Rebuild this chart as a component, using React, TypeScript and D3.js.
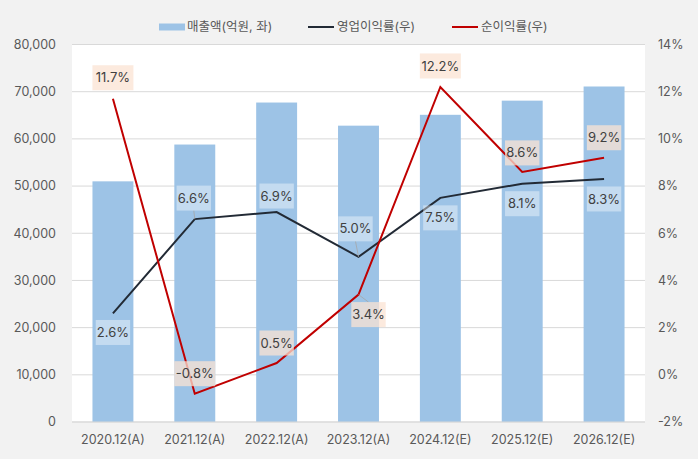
import React from "react";
import * as d3 from "d3";

const categories = ["2020.12(A)", "2021.12(A)", "2022.12(A)", "2023.12(A)", "2024.12(E)", "2025.12(E)", "2026.12(E)"];
const revenue = [51000, 58800, 67700, 62800, 65100, 68100, 71100];
const opMargin = [2.6, 6.6, 6.9, 5.0, 7.5, 8.1, 8.3];
const netMargin = [11.7, -0.8, 0.5, 3.4, 12.2, 8.6, 9.2];
const leftTicks = [0, 10000, 20000, 30000, 40000, 50000, 60000, 70000, 80000];
const rightTicks = [-2, 0, 2, 4, 6, 8, 10, 12, 14];
const legendLabels = ["매출액(억원, 좌)", "영업이익률(우)", "순이익률(우)"];

// label placement (style): [dx, dy] of box centre relative to point
const opLabelOffsets = [[0, 19], [-1, -21], [0, -16], [-3, -28], [0, 20], [0, 20], [0, 20]];
const netLabelOffsets = [[0, -21], [0, -20], [0, -20], [10, 20], [0, -21], [0, -19], [0, -20]];

const W = 698, H = 459;
const M = { left: 72, right: 53, top: 44.5, bottom: 37 };
const FONT = "Inter, 'Noto Sans CJK KR', sans-serif";

export default function App() {
  const x = d3.scaleBand<string>().domain(categories).range([M.left, W - M.right]).paddingInner(0.5).paddingOuter(0.25);
  const yL = d3.scaleLinear().domain([0, 80000]).range([H - M.bottom, M.top]);
  const yR = d3.scaleLinear().domain([-2, 14]).range([H - M.bottom, M.top]);
  const cx = (c: string) => (x(c) as number) + x.bandwidth() / 2;
  const fmt = d3.format(",");
  const line = d3.line<number>().x((_, i) => cx(categories[i])).y((d) => yR(d));

  const labelBox = (v: number, i: number, off: number[], kind: "op" | "net") => {
    const px = cx(categories[i]);
    const py = yR(v);
    const bx = px + off[0];
    const by = py + off[1];
    const txt = v.toFixed(1) + "%";
    const w = txt.length * 6.6 + 8;
    const h = 25;
    const showLeader = Math.abs(off[1]) > 24 || Math.abs(off[0]) > 5 || (kind === "op" && i === 1);
    return (
      <g key={kind + i}>
        {showLeader && (
          <line x1={px} y1={py} x2={bx} y2={by + (off[1] < 0 ? h / 2 : -h / 2)} stroke="#a6a6a6" strokeWidth={0.8} />
        )}
        <rect x={bx - w / 2} y={by - h / 2} width={w} height={h}
          fill={kind === "op" ? "#ffffff" : "#fbe3d3"} fillOpacity={kind === "op" ? 0.4 : 0.75} />
        <text x={bx} y={by} dy="0.35em" textAnchor="middle" fontSize={13} fill="#404040" fontFamily={FONT}>{txt}</text>
      </g>
    );
  };

  return (
    <svg width={W} height={H} style={{ position: "absolute", left: 0, top: 0, background: "#f2f2f2" }}>
      <rect x={0} y={0} width={W} height={H} fill="#f2f2f2" />
      <rect x={M.left} y={M.top} width={W - M.left - M.right} height={H - M.top - M.bottom} fill="#ffffff" />
      {leftTicks.map((t) => (
        <line key={"g" + t} x1={M.left} x2={W - M.right} y1={yL(t)} y2={yL(t)} stroke="#d9d9d9" strokeWidth={1} />
      ))}
      {leftTicks.map((t) => (
        <text key={"l" + t} x={56} y={yL(t)} dy="0.35em" textAnchor="end" fontSize={12.5} fill="#595959" fontFamily={FONT}>{fmt(t)}</text>
      ))}
      {rightTicks.map((t) => (
        <text key={"r" + t} x={658} y={yR(t)} dy="0.35em" textAnchor="start" fontSize={12.5} fill="#595959" fontFamily={FONT}>{t + "%"}</text>
      ))}
      {categories.map((c, i) => (
        <rect key={c} x={x(c)} y={yL(revenue[i])} width={x.bandwidth()} height={yL(0) - yL(revenue[i])} fill="#9dc3e6" />
      ))}
      <line x1={M.left} x2={W - M.right} y1={yL(0)} y2={yL(0)} stroke="#d9d9d9" strokeWidth={1} />
      {categories.map((c) => (
        <text key={"x" + c} x={cx(c)} y={440} dy="0.35em" textAnchor="middle" fontSize={12.5} fill="#595959" fontFamily={FONT}>{c}</text>
      ))}
      <path d={line(opMargin) || ""} fill="none" stroke="#222a35" strokeWidth={2} />
      <path d={line(netMargin) || ""} fill="none" stroke="#c00000" strokeWidth={2} />
      {opMargin.map((v, i) => labelBox(v, i, opLabelOffsets[i], "op"))}
      {netMargin.map((v, i) => labelBox(v, i, netLabelOffsets[i], "net"))}
      <g fontFamily={FONT} fontSize={12.5} fill="#595959">
        <rect x={159} y={23.5} width={26} height={7} fill="#9dc3e6" />
        <text x={187} y={27} dy="0.35em">{legendLabels[0]}</text>
        <line x1={308} x2={334} y1={27} y2={27} stroke="#222a35" strokeWidth={2} />
        <text x={337} y={27} dy="0.35em">{legendLabels[1]}</text>
        <line x1={452} x2={478} y1={27} y2={27} stroke="#c00000" strokeWidth={2} />
        <text x={481} y={27} dy="0.35em">{legendLabels[2]}</text>
      </g>
    </svg>
  );
}
